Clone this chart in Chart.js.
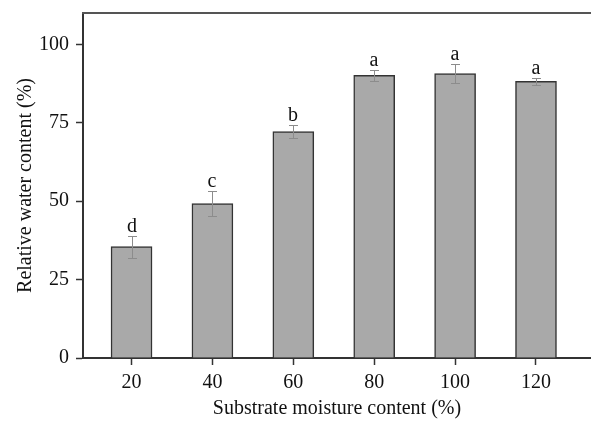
<!DOCTYPE html>
<html>
<head>
<meta charset="utf-8">
<script src="https://cdn.jsdelivr.net/npm/chart.js@4"></script>
<style>
  body { margin: 0; background: #fff; }
  canvas { display: block; }
</style>
</head>
<body>
<canvas id="chart" width="591" height="421"></canvas>
<script>
// substrate moisture levels and the measured relative water content
const moisture = [20, 40, 60, 80, 100, 120];
const rwc = [35.5, 49.2, 72.2, 90.1, 90.7, 88.2];
const rwcErr = [3.5, 4.0, 2.2, 1.8, 2.9, 1.0];
const groups = ["d", "c", "b", "a", "a", "a"];
const yTicks = [0, 25, 50, 75, 100];

const serif = "'Liberation Serif', 'Times New Roman', serif";

// error bars + significance letters
const extras = {
    id: "extras",
    afterDatasetsDraw(chart) {
        const ctx = chart.ctx;
        const xs = chart.scales.x, ys = chart.scales.y;
        ctx.save();
        moisture.forEach((m, i) => {
            const x = Math.round(xs.getPixelForValue(m));
            const top = Math.round(ys.getPixelForValue(rwc[i] + rwcErr[i]));
            const bot = Math.round(ys.getPixelForValue(rwc[i] - rwcErr[i]));
            ctx.strokeStyle = "#8c8c8c";
            ctx.lineWidth = 1;
            ctx.beginPath();
            ctx.moveTo(x + 0.5, top); ctx.lineTo(x + 0.5, bot);
            ctx.moveTo(x - 4, top + 0.5); ctx.lineTo(x + 5, top + 0.5);
            ctx.moveTo(x - 4, bot + 0.5); ctx.lineTo(x + 5, bot + 0.5);
            ctx.stroke();

            ctx.fillStyle = "#111";
            ctx.font = "20px " + serif;
            ctx.textAlign = "center";
            ctx.textBaseline = "alphabetic";
            ctx.fillText(groups[i], x, top - 4);
        });
        // top frame line (the right side is cut off in the original)
        const a = chart.chartArea;
        ctx.strokeStyle = "#555";
        ctx.lineWidth = 2;
        ctx.beginPath();
        ctx.moveTo(a.left - 1, a.top);
        ctx.lineTo(chart.width, a.top);
        ctx.stroke();
        ctx.restore();
    }
};

new Chart(document.getElementById("chart"), {
    type: "bar",
    data: {
        datasets: [{
            data: moisture.map((m, i) => ({ x: m, y: rwc[i] })),
            backgroundColor: "#a9a9a9",
            borderColor: "#333",
            borderWidth: 1.5,
            barThickness: 41
        }]
    },
    options: {
        responsive: false,
        animation: false,
        layout: { padding: { top: 13, right: 0, left: 0, bottom: 0 } },
        plugins: { legend: { display: false }, tooltip: { enabled: false } },
        scales: {
            x: {
                type: "linear",
                min: 8,
                max: 133.6,
                offset: false,
                afterBuildTicks: s => { s.ticks = moisture.map(v => ({ value: v })); },
                afterFit: s => { s.height = 63; s.paddingLeft = 0; s.paddingRight = 0; },
                grid: { offset: false, drawOnChartArea: false, drawTicks: true, tickLength: 7, tickWidth: 1.5, tickColor: "#333" },
                border: { display: true, color: "#333", width: 2 },
                ticks: { color: "#111", padding: 6, font: { family: serif, size: 20 } },
                title: {
                    display: true,
                    text: "Substrate moisture content (%)",
                    color: "#111",
                    font: { family: serif, size: 20 },
                    padding: { top: 0, bottom: 0 }
                }
            },
            y: {
                min: 0,
                max: 110,
                afterBuildTicks: s => { s.ticks = yTicks.map(v => ({ value: v })); },
                afterFit: s => { s.width = 83; s.paddingTop = 0; s.paddingBottom = 0; },
                grid: { drawOnChartArea: false, drawTicks: true, tickLength: 7, tickWidth: 1.5, tickColor: "#333" },
                border: { display: true, color: "#333", width: 2 },
                ticks: { color: "#111", padding: 7, font: { family: serif, size: 20 } },
                title: {
                    display: true,
                    text: "Relative water content (%)",
                    color: "#111",
                    font: { family: serif, size: 20 },
                    padding: { top: 14, bottom: 0 }
                }
            }
        }
    },
    plugins: [extras]
});
</script>
</body>
</html>
